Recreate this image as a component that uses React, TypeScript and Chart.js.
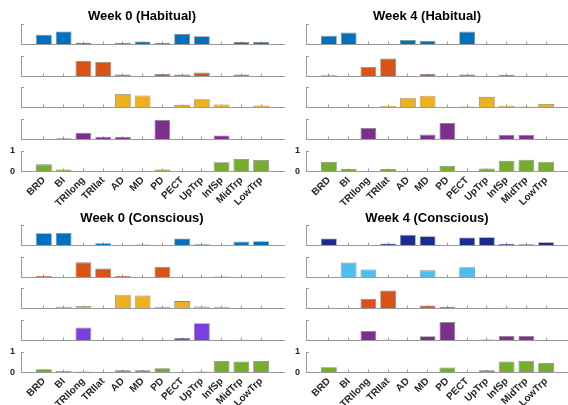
import React, { useEffect, useRef } from 'react';
import { Chart, registerables } from 'chart.js';

Chart.register(...registerables);

// ---------- data ----------
const categories = ['BRD', 'BI', 'TRIlong', 'TRIlat', 'AD', 'MD', 'PD', 'PECT', 'UpTrp', 'InfSp', 'MidTrp', 'LowTrp'];
const yTickValues = [0, 1];
const panelTitles = ['Week 0 (Habitual)', 'Week 4 (Habitual)', 'Week 0 (Conscious)', 'Week 4 (Conscious)'];

// Week 0 (Habitual)
const w0hRow1 = [0.48, 0.64, 0.09, 0.02, 0.08, 0.15, 0.08, 0.52, 0.40, 0, 0.12, 0.12];
const w0hRow2 = [0.02, 0.01, 0.76, 0.71, 0.1, 0, 0.12, 0.1, 0.19, 0, 0.1, 0.02];
const w0hRow3 = [0.04, 0.02, 0, 0, 0.66, 0.59, 0.02, 0.13, 0.4, 0.15, 0.02, 0.1];
const w0hRow4 = [0.03, 0.06, 0.33, 0.13, 0.13, 0, 0.95, 0, 0.03, 0.2, 0.02, 0.02];
const w0hRow5 = [0.35, 0.1, 0.04, 0, 0.03, 0.02, 0.1, 0, 0.04, 0.45, 0.61, 0.56];

// Week 4 (Habitual)
const w4hRow1 = [0.43, 0.58, 0, 0, 0.22, 0.17, 0, 0.63, 0.03, 0, 0, 0];
const w4hRow2 = [0.06, 0, 0.46, 0.88, 0, 0.12, 0, 0.1, 0, 0.09, 0, 0];
const w4hRow3 = [0, 0.02, 0, 0.07, 0.48, 0.57, 0.04, 0.05, 0.52, 0.08, 0.05, 0.17];
const w4hRow4 = [0, 0, 0.56, 0.03, 0, 0.24, 0.8, 0, 0, 0.22, 0.22, 0];
const w4hRow5 = [0.47, 0.12, 0, 0.12, 0, 0.03, 0.27, 0, 0.15, 0.52, 0.57, 0.48];

// Week 0 (Conscious)
const w0cRow1 = [0.6, 0.61, 0, 0.11, 0.02, 0.05, 0, 0.34, 0.06, 0, 0.19, 0.21];
const w0cRow2 = [0.07, 0, 0.74, 0.44, 0.07, 0, 0.52, 0.03, 0, 0.05, 0, 0];
const w0cRow3 = [0, 0.08, 0.12, 0, 0.67, 0.63, 0.08, 0.36, 0.1, 0.09, 0, 0.03];
const w0cRow4 = [0.03, 0, 0.63, 0, 0.02, 0.03, 0.02, 0.12, 0.84, 0, 0.04, 0.02];
const w0cRow5 = [0.16, 0.08, 0.05, 0, 0.11, 0.11, 0.21, 0, 0.05, 0.56, 0.54, 0.56];

// Week 4 (Conscious)
const w4cRow1 = [0.34, 0, 0, 0.1, 0.52, 0.45, 0.03, 0.39, 0.4, 0.08, 0.06, 0.16];
const w4cRow2 = [0.03, 0.73, 0.39, 0, 0.03, 0.35, 0, 0.5, 0, 0, 0.02, 0.02];
const w4cRow3 = [0.04, 0, 0.47, 0.88, 0.03, 0.15, 0.09, 0.03, 0.02, 0.04, 0, 0];
const w4cRow4 = [0.02, 0, 0.46, 0.04, 0, 0.21, 0.9, 0.02, 0.05, 0.22, 0.22, 0];
const w4cRow5 = [0.26, 0, 0, 0.03, 0.03, 0.03, 0.25, 0, 0.11, 0.54, 0.57, 0.46];

// ---------- styles ----------
const BLUE = '#0072BD';
const ORANGE = '#D95319';
const YELLOW = '#EDB120';
const PURPLE = '#7E2F8E';
const VIOLET = '#7B3FE0';
const GREEN = '#77AC30';
const NAVY = '#1B2C8F';
const LIGHTBLUE = '#4DBEEE';
const AXIS = '#9a9a9a';
const EDGE = 'rgba(55,55,55,0.6)';
const TEXT = '#262626';
const FONT = "'Liberation Sans', Arial, Helvetica, sans-serif";

const panels = [
  { title: panelTitles[0], rows: [w0hRow1, w0hRow2, w0hRow3, w0hRow4, w0hRow5], colors: [BLUE, ORANGE, YELLOW, PURPLE, GREEN] },
  { title: panelTitles[1], rows: [w4hRow1, w4hRow2, w4hRow3, w4hRow4, w4hRow5], colors: [BLUE, ORANGE, YELLOW, PURPLE, GREEN] },
  { title: panelTitles[2], rows: [w0cRow1, w0cRow2, w0cRow3, w0cRow4, w0cRow5], colors: [BLUE, ORANGE, YELLOW, VIOLET, GREEN] },
  { title: panelTitles[3], rows: [w4cRow1, w4cRow2, w4cRow3, w4cRow4, w4cRow5], colors: [NAVY, LIGHTBLUE, ORANGE, PURPLE, GREEN] },
];

// ---------- layout ----------
const PANEL_LEFT = [0, 285, 0, 285];
const PANEL_TOP = [0, 0, 201, 201];
const TITLE_CX = [157, 449.5, 150.7, 443.7];
const TITLE_CY = [16, 16, 17.5, 17.5];
const ROW_TOP = [24, 56, 87, 119, 151];
const ROW_H = 20.5;
const Y_W = 21;
const PLOT_W = 263;
const PAD = 8;
const XLAB_H = 34;
const X_MIN = -0.16;
const X_MAX = 13.16;

type Spec = { left: number; top: number; width: number; height: number; config: any };

function buildSpecs(): Spec[] {
  const specs: Spec[] = [];
  panels.forEach((panel, p) => {
    panel.rows.forEach((values, r) => {
      const isTop = r === 0;
      const isBottom = r === panel.rows.length - 1;
      const left = PANEL_LEFT[p];
      const width = isTop ? Math.round(2 * (TITLE_CX[p] - left)) : Y_W + PLOT_W + 1;
      const padRight = width - Y_W - PLOT_W;
      const top = isTop ? PANEL_TOP[p] : PANEL_TOP[p] + ROW_TOP[r] - PAD;
      const chartTop = isTop ? ROW_TOP[0] : PAD;
      const xH = isBottom ? XLAB_H : 0;
      const height = Math.ceil(chartTop + ROW_H + xH + 1);
      const padBottom = height - chartTop - ROW_H - xH;
      const titlePadTop = TITLE_CY[p] - 6.5;
      const titlePadBottom = ROW_TOP[0] - titlePadTop - 13;

      const config = {
        type: 'bar',
        data: {
          datasets: [
            {
              data: values.map((v, i) => ({ x: i + 1, y: v })),
              backgroundColor: panel.colors[r],
              borderColor: EDGE,
              borderWidth: 0.8,
              barPercentage: 0.8,
              categoryPercentage: 1,
            },
          ],
        },
        options: {
          animation: false,
          responsive: false,
          maintainAspectRatio: false,
          events: [],
          layout: { padding: { top: isTop ? 0 : PAD, right: padRight, bottom: padBottom, left: 0 } },
          plugins: {
            legend: { display: false },
            tooltip: { enabled: false },
            title: {
              display: isTop,
              text: panel.title,
              color: '#000',
              font: { family: FONT, size: 13, weight: 'bold', lineHeight: 1 },
              padding: { top: titlePadTop, bottom: titlePadBottom },
            },
          },
          scales: {
            x: {
              type: 'linear',
              offset: false,
              min: X_MIN,
              max: X_MAX,
              afterBuildTicks: (s: any) => {
                s.ticks = categories.map((_, i) => ({ value: i + 1 }));
              },
              afterFit: (s: any) => {
                s.height = xH;
                s.paddingLeft = 0;
                s.paddingRight = 0;
                s.paddingTop = 0;
                s.paddingBottom = 0;
              },
              grid: { display: true, offset: false, drawOnChartArea: false, drawTicks: true, tickLength: -3, color: AXIS, lineWidth: 1 },
              border: { display: true, color: AXIS, width: 1 },
              ticks: {
                display: isBottom,
                autoSkip: false,
                maxRotation: 45,
                minRotation: 45,
                padding: 6,
                color: TEXT,
                font: { family: FONT, size: 10, weight: 'bold' },
                callback: (v: any) => categories[Math.round(v) - 1] ?? '',
              },
            },
            y: {
              min: 0,
              max: 1,
              offset: false,
              afterBuildTicks: (s: any) => {
                s.ticks = yTickValues.map((v) => ({ value: v }));
              },
              afterFit: (s: any) => {
                s.width = Y_W;
                s.paddingLeft = 0;
                s.paddingRight = 0;
                s.paddingTop = 0;
                s.paddingBottom = 0;
              },
              grid: { display: true, drawOnChartArea: false, drawTicks: true, tickLength: -3, color: AXIS, lineWidth: 1 },
              border: { display: true, color: AXIS, width: 1 },
              ticks: {
                display: isBottom,
                padding: 9,
                color: TEXT,
                font: { family: FONT, size: 9, weight: 'bold' },
                callback: (v: any) => String(v),
              },
            },
          },
        },
      };
      specs.push({ left, top, width, height, config });
    });
  });
  return specs;
}

const specs = buildSpecs();

export default function App() {
  const refs = useRef<(HTMLCanvasElement | null)[]>([]);

  useEffect(() => {
    const charts: Chart[] = [];
    specs.forEach((s, i) => {
      const c = refs.current[i];
      if (c) charts.push(new Chart(c, s.config));
    });
    return () => charts.forEach((c) => c.destroy());
  }, []);

  return (
    <div
      style={{
        position: 'absolute',
        left: 0,
        top: 0,
        width: 568,
        height: 405,
        overflow: 'hidden',
        background: '#fff',
      }}
    >
      {specs.map((s, i) => (
        <canvas
          key={i}
          ref={(el) => {
            refs.current[i] = el;
          }}
          width={s.width}
          height={s.height}
          style={{ position: 'absolute', left: s.left, top: s.top, width: s.width, height: s.height }}
        />
      ))}
    </div>
  );
}
